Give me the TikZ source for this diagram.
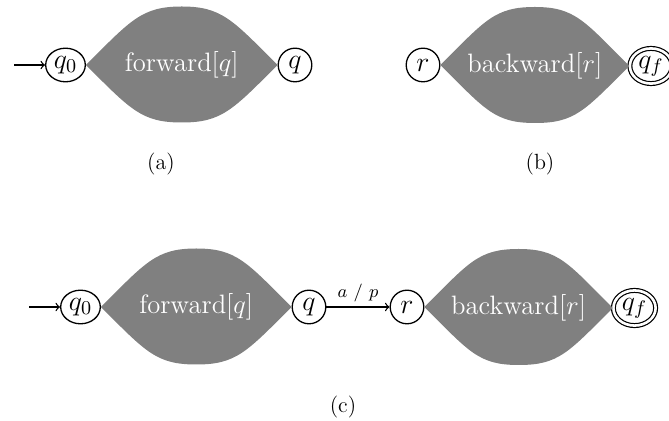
\RequirePackage{fix-cm}
\documentclass[tikz,border=0pt]{standalone}
\usetikzlibrary{shapes.geometric,calc}
\tikzset{
  stnode/.style={ellipse, draw, line width=0.65pt, minimum width=16.8pt, minimum height=16.8pt,
    inner sep=1.2pt, font=\fontsize{14}{16}\selectfont},
  accnode/.style={stnode, double, double distance=1.3pt, line width=0.6pt},
  lenstext/.style={text=white, font=\fontsize{13.3}{15}\selectfont, inner sep=0pt},
  lensfill/.style={fill=gray},
  captionlbl/.style={font=\fontsize{11}{13}\selectfont},
  trans/.style={-to, line width=0.65pt},
  translbl/.style={font=\fontsize{9}{10}\selectfont, inner sep=2pt}
}
\newcommand\mylens[3]{%
  \fill[lensfill] (#1.east)
    .. controls +(45,-45) and +(-40,0) .. ($(#1.east)!0.5!(#2.west)+(0,-58.5)$)
    .. controls +(40,0) and +(-45,-45) .. (#2.west)
    .. controls +(-45,45) and +(40,0) .. ($(#1.east)!0.5!(#2.west)+(0,57.5)$)
    .. controls +(-40,0) and +(45,45) .. (#1.east);
  \node[lenstext] at ($(#1.east)!0.5!(#2.west)$) {#3};%
}
\begin{document}
\begin{tikzpicture}[x=0.5pt, y=-0.5pt]
  \useasboundingbox (0,0) rectangle (669,421);
  % (a)
  \coordinate (sa) at (14,65);
  \node[stnode] (q0a) at (65.5,65) {$q_0$};
  \node[stnode] (qa) at (295,65) {$q$};
  \mylens{q0a}{qa}{forward$[q]$}
  \draw[trans] (sa) -- (q0a);
  \node[captionlbl] (capa) at (161,164) {(a)};
  % (b)
  \node[stnode] (rb) at (423,65) {$r$};
  \node[accnode] (qfb) at (651,66) {$q_f$};
  \mylens{rb}{qfb}{backward$[r]$}
  \node[captionlbl] (capb) at (540,164) {(b)};
  % (c)
  \coordinate (sc) at (29,307);
  \node[stnode] (q0c) at (80.5,307) {$q_0$};
  \node[stnode] (qc) at (309,307) {$q$};
  \mylens{q0c}{qc}{forward$[q]$}
  \draw[trans] (sc) -- (q0c);
  \node[stnode] (rc) at (407,307) {$r$};
  \node[accnode] (qfc) at (634.5,308) {$q_f$};
  \mylens{rc}{qfc}{backward$[r]$}
  \draw[trans] (qc) -- node[translbl, above] (lblap) {$a$ / $p$} (rc);
  \node[captionlbl] (capc) at (343,407) {(c)};
\end{tikzpicture}
\end{document}
